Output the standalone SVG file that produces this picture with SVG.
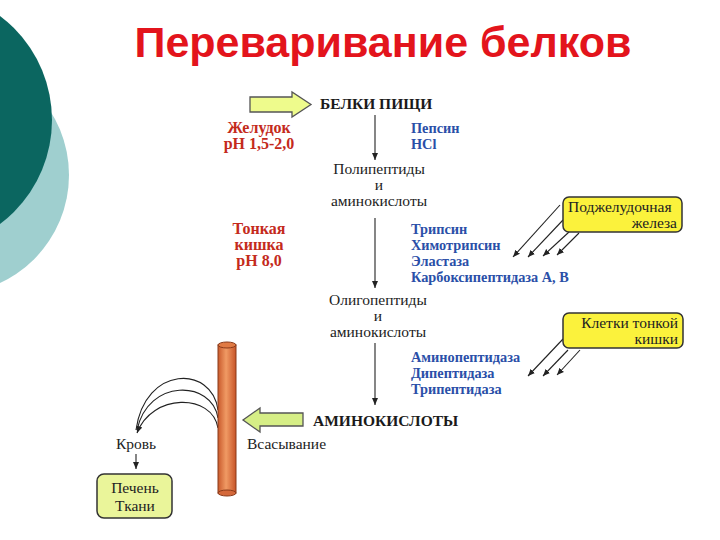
<svg xmlns="http://www.w3.org/2000/svg" width="720" height="540" viewBox="0 0 720 540">
<defs>
<style>
.t{font-family:"Liberation Serif","Times New Roman",serif;font-size:15.5px;fill:#222}
.b{font-family:"Liberation Serif","Times New Roman",serif;font-weight:bold;font-size:14.3px}
.blue{fill:#2a4fa8}
.red{fill:#c42a1c;font-size:16px}
.cap{font-family:"Liberation Serif","Times New Roman",serif;font-weight:bold;font-size:15.5px;fill:#1a1a1a}
.ln{stroke:#222;stroke-width:1.1;fill:none}
.box{fill:#fbf23c;stroke:#333;stroke-width:1.5}
.bigarrow{stroke:#555;stroke-width:1.3}
</style>
<marker id="ah" markerWidth="8" markerHeight="8" refX="7" refY="4" orient="auto" markerUnits="userSpaceOnUse">
<path d="M0,1 L7,4 L0,7 Z" fill="#222"/>
</marker>
<linearGradient id="tube" x1="0" x2="1" y1="0" y2="0">
<stop offset="0" stop-color="#c95a2c"/>
<stop offset="0.45" stop-color="#f09a64"/>
<stop offset="1" stop-color="#c75428"/>
</linearGradient>
</defs>
<rect width="720" height="540" fill="#fff"/>
<g id="background">
<circle cx="-50" cy="175" r="119" fill="#9fcfcf"/>
<circle cx="-78" cy="120" r="130" fill="#0b6660"/>
</g>
<text id="title" x="383" y="57" text-anchor="middle" font-family="'Liberation Sans',Arial,sans-serif" font-weight="bold" font-size="43" fill="#e3141c">Переваривание белков</text>

<g id="connectors">
<line class="ln" x1="375" y1="115" x2="375" y2="160" marker-end="url(#ah)"/>
<line class="ln" x1="375" y1="218" x2="375" y2="288" marker-end="url(#ah)"/>
<line class="ln" x1="375" y1="343" x2="375" y2="405" marker-end="url(#ah)"/>
<line class="ln" x1="560" y1="205" x2="513" y2="257" marker-end="url(#ah)"/>
<line class="ln" x1="563" y1="220" x2="528" y2="257" marker-end="url(#ah)"/>
<line class="ln" x1="569" y1="232" x2="543" y2="256" marker-end="url(#ah)"/>
<line class="ln" x1="579" y1="233" x2="557" y2="255" marker-end="url(#ah)"/>
<line class="ln" x1="563" y1="339" x2="528" y2="376" marker-end="url(#ah)"/>
<line class="ln" x1="568" y1="350" x2="543" y2="376" marker-end="url(#ah)"/>
<line class="ln" x1="580" y1="350" x2="557" y2="375" marker-end="url(#ah)"/>
<path class="ln" d="M218,410 C212,365 145,365 136,430"/>
<path class="ln" d="M218,418 C212,380 148,378 137,430"/>
<path class="ln" d="M218,428 C212,393 152,393 137,433" marker-end="url(#ah)"/>
<line class="ln" x1="136" y1="454" x2="136" y2="469" marker-end="url(#ah)"/>
</g>

<g id="arrow-in">
<path class="bigarrow" d="M250,97 H292 V92 L311,104.5 L292,117 V112 H250 Z" fill="#eefb8c"/>
</g>
<g id="belki-pishchi"><text class="cap" x="320" y="109">БЕЛКИ ПИЩИ</text></g>
<g id="zheludok">
<text class="b red" x="259" y="133" text-anchor="middle">Желудок</text>
<text class="b red" x="259" y="149" text-anchor="middle">pH 1,5-2,0</text>
</g>
<g id="pepsin">
<text class="b blue" x="411" y="133">Пепсин</text>
<text class="b blue" x="411" y="149">HCl</text>
</g>
<g id="polipeptidy">
<text class="t" x="379" y="174" text-anchor="middle">Полипептиды</text>
<text class="t" x="379" y="190" text-anchor="middle">и</text>
<text class="t" x="379" y="206" text-anchor="middle">аминокислоты</text>
</g>
<g id="tonkaya-kishka">
<text class="b red" x="259" y="234" text-anchor="middle">Тонкая</text>
<text class="b red" x="259" y="250" text-anchor="middle">кишка</text>
<text class="b red" x="259" y="266" text-anchor="middle">pH 8,0</text>
</g>
<g id="pancreatic-enzymes">
<text class="b blue" x="411" y="234">Трипсин</text>
<text class="b blue" x="411" y="250">Химотрипсин</text>
<text class="b blue" x="411" y="266">Эластаза</text>
<text class="b blue" x="411" y="282">Карбоксипептидаза А, В</text>
</g>
<g id="pancreas">
<rect class="box" x="563" y="197" width="119" height="35" rx="6"/>
<text class="t" x="568" y="212">Поджелудочная</text>
<text class="t" x="677" y="228" text-anchor="end">железа</text>
</g>
<g id="oligopeptidy">
<text class="t" x="378" y="305" text-anchor="middle">Олигопептиды</text>
<text class="t" x="378" y="321" text-anchor="middle">и</text>
<text class="t" x="378" y="337" text-anchor="middle">аминокислоты</text>
</g>
<g id="intestinal-cells">
<rect class="box" x="563" y="313" width="120" height="35" rx="6"/>
<text class="t" x="678" y="328" text-anchor="end">Клетки тонкой</text>
<text class="t" x="678" y="344" text-anchor="end">кишки</text>
</g>
<g id="peptidases">
<text class="b blue" x="411" y="362">Аминопептидаза</text>
<text class="b blue" x="411" y="378">Дипептидаза</text>
<text class="b blue" x="411" y="394">Трипептидаза</text>
</g>
<g id="aminokisloty">
<text class="cap" x="313" y="426" font-size="16">АМИНОКИСЛОТЫ</text>
</g>
<g id="arrow-out">
<path class="bigarrow" d="M303,413 H260 V408 L243,420 L260,432 V426 H303 Z" fill="#d6ee86"/>
</g>
<g id="tube-wall">
<rect x="218" y="345" width="18" height="148" fill="url(#tube)" stroke="#8a3a1a" stroke-width="1"/>
<ellipse cx="227" cy="345" rx="9" ry="3" fill="#e07a44" stroke="#8a3a1a" stroke-width="1"/>
<ellipse cx="227" cy="493" rx="9" ry="3" fill="#d4683a" stroke="#8a3a1a" stroke-width="1"/>
</g>
<g id="vsasyvanie"><text class="t" x="247" y="449">Всасывание</text></g>
<g id="krov"><text class="t" x="136" y="449" text-anchor="middle">Кровь</text></g>
<g id="liver-tissues">
<rect x="97" y="474" width="75" height="44" rx="7" fill="#eaf59a" stroke="#333" stroke-width="1.5"/>
<text class="t" x="135" y="493" text-anchor="middle">Печень</text>
<text class="t" x="135" y="511" text-anchor="middle">Ткани</text>
</g>
</svg>
